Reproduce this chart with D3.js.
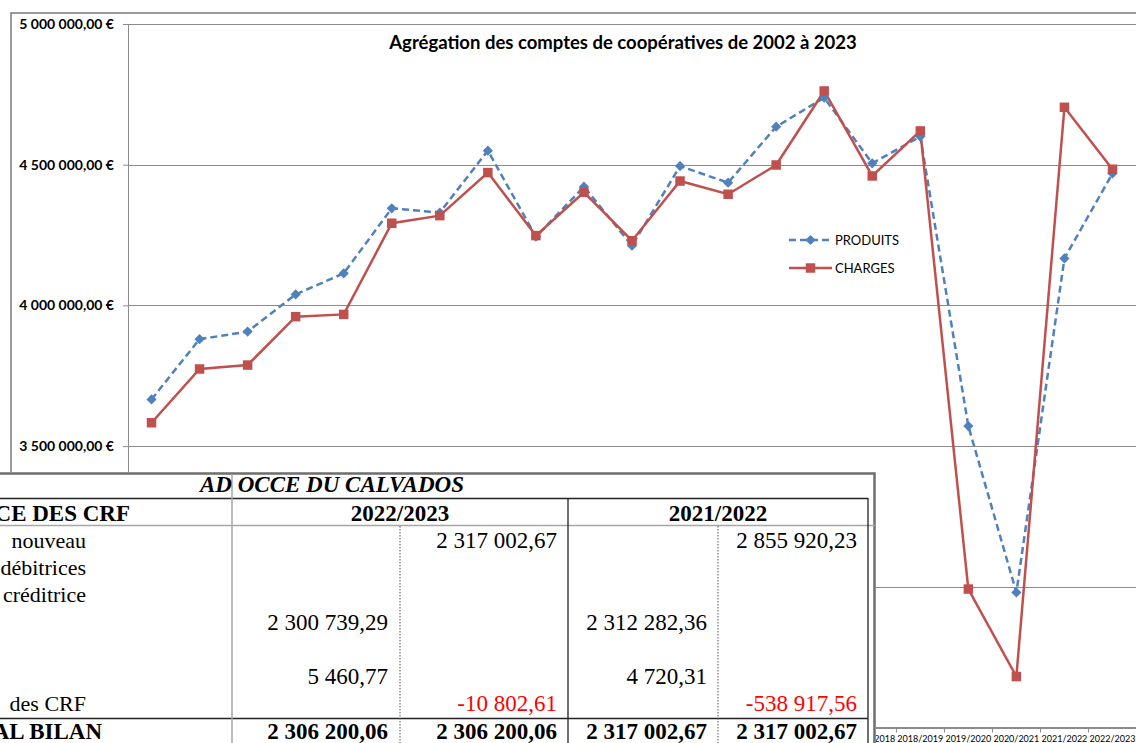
<!DOCTYPE html>
<html lang="fr">
<head>
    <meta charset="UTF-8">
    <title>Agrégation des comptes de coopératives de 2002 à 2023</title>
    <style>
        body {
            margin: 0;
            background-color: #fff;
        }
        svg {
            display: block;
        }
        .chart text {
            font-family: Lato, "Open Sans", sans-serif;
            fill: #000;
        }
        .table text {
            font-family: "Liberation Serif", "Times New Roman", serif;
            font-size: 23px;
            fill: #000;
        }
    </style>
    <script src="https://d3js.org/d3.v7.min.js"></script>
</head>
<body>
    <svg id="chart" width="1136" height="743"></svg>
    <script>
        // Chart data
        const categories = [
            "2002/2003", "2003/2004", "2004/2005", "2005/2006", "2006/2007", "2007/2008", "2008/2009",
            "2009/2010", "2010/2011", "2011/2012", "2012/2013", "2013/2014", "2014/2015", "2015/2016",
            "2016/2017", "2017/2018", "2018/2019", "2019/2020", "2020/2021", "2021/2022", "2022/2023"
        ];
        const produits = [
            3666000, 3880000, 3907000, 4039000, 4114000, 4345000, 4330000,
            4550000, 4244000, 4422000, 4212000, 4495000, 4436000, 4635000,
            4738000, 4505000, 4600000, 3571000, 2980000, 4167000, 4469000
        ];
        const charges = [
            3583000, 3774000, 3788000, 3960000, 3968000, 4292000, 4319000,
            4472000, 4248000, 4402000, 4230000, 4442000, 4395000, 4499000,
            4762000, 4460000, 4620000, 2992000, 2681000, 4704000, 4484000
        ];
        const yTicks = [2500000, 3000000, 3500000, 4000000, 4500000, 5000000];
        const seriesNames = ["PRODUITS", "CHARGES"];
        const chartTitle = "Agrégation des comptes de coopératives de 2002 à 2023";

        // Table pasted over the chart (only the visible part)
        const tableTitle = "AD OCCE DU CALVADOS";
        const tableHeader = "CE DES CRF";
        const tableYears = ["2022/2023", "2021/2022"];
        const rowLabels = ["nouveau", "débitrices", "créditrice", "", "", "", "des CRF"];
        const col2023a = [null, null, null, 2300739.29, null, 5460.77, null];
        const col2023b = [2317002.67, null, null, null, null, null, -10802.61];
        const col2022a = [null, null, null, 2312282.36, null, 4720.31, null];
        const col2022b = [2855920.23, null, null, null, null, null, -538917.56];
        const totalLabel = "AL BILAN";
        const totals = [2306200.06, 2306200.06, 2317002.67, 2317002.67];

        const fr = d3.formatLocale({
            decimal: ",", thousands: " ", grouping: [3],
            currency: ["", " €"], minus: "-"
        });
        const fmtEuro = fr.format("$,.2f");
        const fmtNum = fr.format(",.2f");

        const svg = d3.select("#chart");
        const chart = svg.append("g").attr("class", "chart");

        const plot = { left: 128, right: 1136, top: 24, bottom: 727.5 };
        // area hidden by the pasted table
        const tableBox = { top: 472, right: 876 };

        const x = d3.scaleBand()
            .domain(categories)
            .range([127.5, 1136.5]);

        const y = d3.scaleLinear()
            .domain([2500000, 5000000])
            .range([plot.bottom, plot.top]);

        // outer chart frame
        chart.append("rect")
            .attr("x", 11).attr("y", 13)
            .attr("width", 1200).attr("height", 800)
            .attr("fill", "none")
            .attr("stroke", "#7a7a7a")
            .attr("stroke-width", 1.5);

        // gridlines
        chart.append("g")
            .selectAll("line")
            .data(yTicks)
            .enter().append("line")
            .attr("x1", plot.left).attr("x2", plot.right)
            .attr("y1", d => Math.round(y(d)) + 0.5)
            .attr("y2", d => Math.round(y(d)) + 0.5)
            .attr("stroke", "#8c8c8c");

        // y axis
        const yAxis = chart.append("g")
            .attr("transform", `translate(${plot.left},0)`)
            .call(d3.axisLeft(y).tickValues(yTicks).tickSize(5).tickPadding(9).tickFormat(fmtEuro));
        yAxis.select(".domain").attr("stroke", "#8c8c8c");
        yAxis.selectAll(".tick line").attr("stroke", "#8c8c8c");
        yAxis.selectAll(".tick")
            .filter(d => y(d) > tableBox.top)
            .select("text").remove();
        yAxis.selectAll("text")
            .attr("font-family", "Lato, sans-serif")
            .attr("font-size", 14)
            .attr("font-weight", "bold")
            .attr("fill", "#000");

        // x axis
        const xAxis = chart.append("g")
            .attr("transform", `translate(0,${plot.bottom})`);
        xAxis.append("line")
            .attr("x1", plot.left).attr("x2", plot.right)
            .attr("stroke", "#8c8c8c");
        xAxis.selectAll(".xtick")
            .data(categories)
            .enter().append("line")
            .attr("class", "xtick")
            .attr("x1", d => Math.round(x(d)) + 0.5)
            .attr("x2", d => Math.round(x(d)) + 0.5)
            .attr("y1", 0).attr("y2", 5)
            .attr("stroke", "#8c8c8c");
        xAxis.selectAll(".xlabel")
            .data(categories.filter(d => x(d) + x.bandwidth() > tableBox.right))
            .enter().append("text")
            .attr("class", "xlabel")
            .attr("x", d => x(d) + x.bandwidth() / 2)
            .attr("y", 14)
            .attr("text-anchor", "middle")
            .attr("font-size", 9)
            .text(d => d);

        // series
        const cx = (d, i) => x(categories[i]) + x.bandwidth() / 2;
        const line = d3.line().x(cx).y(d => y(d));

        chart.append("path")
            .datum(produits)
            .attr("d", line)
            .attr("fill", "none")
            .attr("stroke", "#4f81bd")
            .attr("stroke-width", 2.5)
            .attr("stroke-dasharray", "7,4");

        chart.append("path")
            .datum(charges)
            .attr("d", line)
            .attr("fill", "none")
            .attr("stroke", "#c0504d")
            .attr("stroke-width", 2.5);

        const diamond = d3.symbol().type(d3.symbolSquare).size(52);
        const square = d3.symbol().type(d3.symbolSquare).size(90);

        chart.append("g")
            .selectAll("path")
            .data(produits)
            .enter().append("path")
            .attr("d", diamond)
            .attr("transform", (d, i) => `translate(${cx(d, i)},${y(d)}) rotate(45)`)
            .attr("fill", "#4f81bd");

        chart.append("g")
            .selectAll("path")
            .data(charges)
            .enter().append("path")
            .attr("d", square)
            .attr("transform", (d, i) => `translate(${cx(d, i)},${y(d)})`)
            .attr("fill", "#c0504d");

        // legend
        const legend = chart.append("g").attr("transform", "translate(789,240)");
        const legendItems = legend.selectAll("g")
            .data(seriesNames)
            .enter().append("g")
            .attr("transform", (d, i) => `translate(0,${i * 28})`);
        legendItems.append("line")
            .attr("x1", 0).attr("x2", 43)
            .attr("stroke", (d, i) => i === 0 ? "#4f81bd" : "#c0504d")
            .attr("stroke-width", 2.5)
            .attr("stroke-dasharray", (d, i) => i === 0 ? "7,4" : null);
        legendItems.append("path")
            .attr("d", (d, i) => i === 0 ? diamond() : square())
            .attr("transform", (d, i) => `translate(21.5,0) rotate(${i === 0 ? 45 : 0})`)
            .attr("fill", (d, i) => i === 0 ? "#4f81bd" : "#c0504d");
        legendItems.append("text")
            .attr("x", 46)
            .attr("dy", "0.35em")
            .attr("font-size", 13)
            .text(d => d);

        // title
        chart.append("text")
            .attr("x", 623)
            .attr("y", 49)
            .attr("text-anchor", "middle")
            .attr("font-size", 18.5)
            .attr("font-weight", "bold")
            .text(chartTitle);

        // ---- table overlay ----
        const table = svg.append("g").attr("class", "table");

        table.append("rect")
            .attr("x", -5).attr("y", tableBox.top)
            .attr("width", tableBox.right + 5).attr("height", 280)
            .attr("fill", "#fff");

        // frame of the pasted picture
        table.append("path")
            .attr("d", "M0,473.5H874.5V743")
            .attr("fill", "none")
            .attr("stroke", "#6e6e6e")
            .attr("stroke-width", 2.5);

        const solid = (x1, y1, x2, y2, color, w) => table.append("line")
            .attr("x1", x1).attr("y1", y1).attr("x2", x2).attr("y2", y2)
            .attr("stroke", color).attr("stroke-width", w || 1.3);

        solid(0, 498.5, 868, 498.5, "#222");
        solid(0, 525.5, 875, 525.5, "#a6a6a6", 1.5);
        solid(0, 718.5, 868, 718.5, "#222");
        solid(232, 474, 232, 743, "#a6a6a6", 1.5);
        solid(568, 498, 568, 743, "#222");
        solid(868, 498, 868, 743, "#222");
        [400, 718].forEach(xx => solid(xx, 526, xx, 743, "#555", 1).attr("stroke-dasharray", "1.5,1.5"));

        const rowBase = i => 548 + i * 27.2;
        const colRight = [388, 557, 707, 857];

        table.append("text")
            .attr("x", 332).attr("y", 492)
            .attr("text-anchor", "middle")
            .attr("font-weight", "bold")
            .attr("font-style", "italic")
            .text(tableTitle);

        table.append("text")
            .attr("x", 130).attr("y", 521)
            .attr("text-anchor", "end")
            .attr("font-weight", "bold")
            .text(tableHeader);

        table.selectAll(".year")
            .data(tableYears)
            .enter().append("text")
            .attr("class", "year")
            .attr("x", (d, i) => i === 0 ? 400 : 718)
            .attr("y", 521)
            .attr("text-anchor", "middle")
            .attr("font-weight", "bold")
            .text(d => d);

        table.selectAll(".rowlabel")
            .data(rowLabels)
            .enter().append("text")
            .attr("class", "rowlabel")
            .attr("x", 86)
            .attr("y", (d, i) => rowBase(i))
            .attr("text-anchor", "end")
            .style("font-size", "22px")
            .text(d => d);

        [col2023a, col2023b, col2022a, col2022b].forEach((col, c) => {
            table.append("g")
                .selectAll("text")
                .data(col.map((v, i) => ({ v, i })).filter(d => d.v !== null))
                .enter().append("text")
                .attr("x", colRight[c])
                .attr("y", d => rowBase(d.i))
                .attr("text-anchor", "end")
                .style("fill", d => d.v < 0 ? "#ff0000" : "#000")
                .text(d => fmtNum(d.v));
        });

        table.append("text")
            .attr("x", 102).attr("y", 739)
            .attr("text-anchor", "end")
            .attr("font-weight", "bold")
            .text(totalLabel);

        table.selectAll(".total")
            .data(totals)
            .enter().append("text")
            .attr("class", "total")
            .attr("x", (d, i) => colRight[i])
            .attr("y", 739)
            .attr("text-anchor", "end")
            .attr("font-weight", "bold")
            .text(d => fmtNum(d));
    </script>
</body>
</html>
